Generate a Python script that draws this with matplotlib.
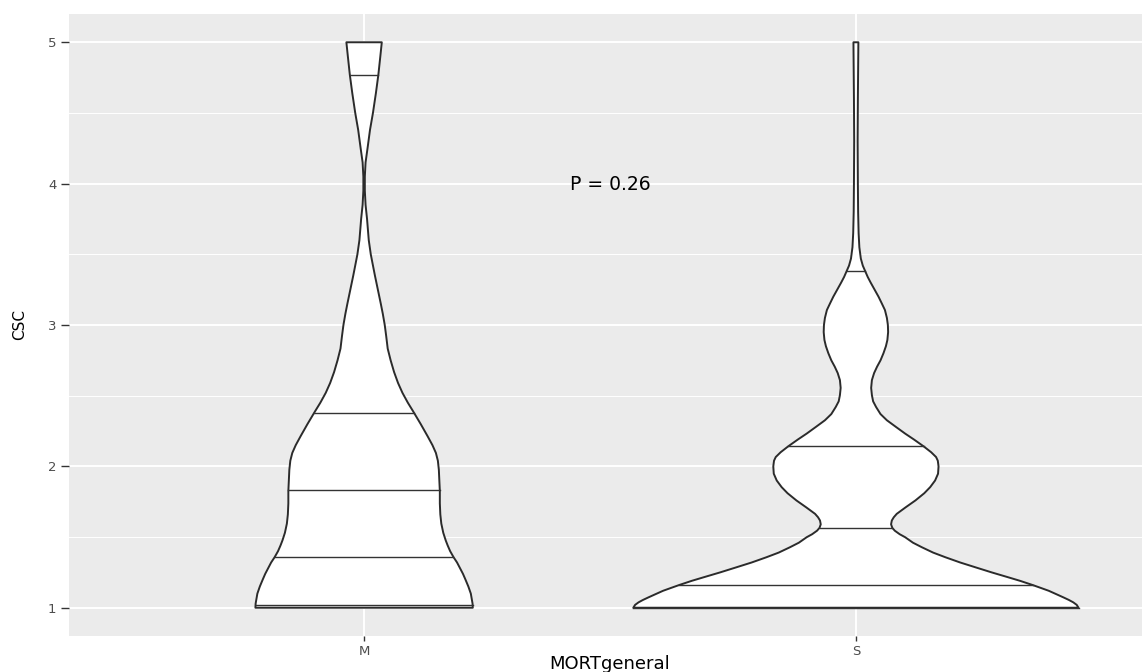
import numpy as np
import matplotlib.pyplot as plt

# group labels on the x axis
groups = ["M", "S"]

# violin outline: half-width (in category units) at each CSC value
m_y = [1.0, 1.03, 1.06, 1.1, 1.15, 1.2, 1.24, 1.28, 1.32, 1.357, 1.4, 1.44,
       1.476, 1.53, 1.595, 1.66, 1.738, 1.826, 1.9, 1.976, 2.04, 2.095, 2.15,
       2.214, 2.3, 2.39, 2.45, 2.52, 2.59, 2.667, 2.75, 2.833, 2.92, 3.0,
       3.08, 3.15, 3.25, 3.35, 3.43, 3.5, 3.6, 3.75, 3.85, 3.95, 4.05, 4.15,
       4.25, 4.38, 4.5, 4.64, 4.77, 4.9, 5.0]
m_half = [0.221, 0.2205, 0.219, 0.217, 0.212, 0.206, 0.201, 0.195, 0.189,
          0.182, 0.175, 0.170, 0.166, 0.161, 0.157, 0.155, 0.154, 0.154, 0.153,
          0.152, 0.150, 0.146, 0.139, 0.129, 0.115, 0.0996, 0.089, 0.078,
          0.069, 0.061, 0.054, 0.048, 0.045, 0.042, 0.038, 0.034, 0.028, 0.022,
          0.0175, 0.0136, 0.0095, 0.006, 0.003, 0.0015, 0.0015, 0.003, 0.007,
          0.012, 0.018, 0.024, 0.029, 0.033, 0.036]

s_y = [1.0, 1.02, 1.038, 1.055, 1.073, 1.095, 1.12, 1.14, 1.161, 1.19, 1.215,
       1.25, 1.286, 1.32, 1.357, 1.39, 1.428, 1.46, 1.499, 1.52, 1.545, 1.565,
       1.59, 1.617, 1.64, 1.664, 1.71, 1.759, 1.81, 1.853, 1.9, 1.948, 2.0,
       2.04, 2.066, 2.1, 2.142, 2.19, 2.232, 2.28, 2.326, 2.37, 2.42, 2.46,
       2.504, 2.555, 2.61, 2.66, 2.705, 2.75, 2.8, 2.85, 2.894, 2.95, 3.0,
       3.05, 3.106, 3.15, 3.2, 3.25, 3.3, 3.34, 3.38, 3.42, 3.47, 3.55, 3.65,
       3.8, 4.0, 4.3, 4.6, 5.0]
s_half = [0.4526, 0.449, 0.442, 0.433, 0.422, 0.408, 0.392, 0.376, 0.359,
          0.334, 0.310, 0.276, 0.243, 0.212, 0.182, 0.157, 0.134, 0.116, 0.100,
          0.089, 0.079, 0.074, 0.0715, 0.073, 0.077, 0.083, 0.101, 0.121,
          0.139, 0.151, 0.161, 0.167, 0.168, 0.1665, 0.163, 0.153, 0.1375,
          0.118, 0.100, 0.081, 0.063, 0.050, 0.041, 0.035, 0.0325, 0.031,
          0.0325, 0.037, 0.043, 0.050, 0.056, 0.061, 0.064, 0.0655, 0.065,
          0.063, 0.059, 0.053, 0.046, 0.038, 0.030, 0.024, 0.019, 0.014, 0.010,
          0.007, 0.0055, 0.0045, 0.004, 0.0035, 0.004, 0.005]

# quantile lines drawn inside each violin
m_quantiles = [1.02, 1.36, 1.83, 2.38, 4.77]
s_quantiles = [1.0, 1.16, 1.565, 2.142, 3.38]

p_label = "P = 0.26"

profiles = [(m_y, m_half, m_quantiles), (s_y, s_half, s_quantiles)]

fig = plt.figure(figsize=(11.42, 6.72), dpi=100)
ax = fig.add_axes([69 / 1142, 36 / 672, 1082 / 1142, 622 / 672])
ax.set_facecolor("#EBEBEB")
for sp in ax.spines.values():
    sp.set_visible(False)

ax.set_xlim(0.4, 2.6)
ax.set_ylim(0.8, 5.2)
ax.set_xticks([1, 2])
ax.set_xticklabels(groups)
ax.set_yticks([1, 2, 3, 4, 5])
ax.set_yticks([1.5, 2.5, 3.5, 4.5], minor=True)
ax.grid(which="major", color="white", linewidth=1.4)
ax.grid(which="minor", axis="y", color="white", linewidth=0.7)
ax.set_axisbelow(True)
ax.tick_params(axis="y", which="major", length=6, width=1, color="#333333",
               labelsize=9.5, labelcolor="#4D4D4D", pad=3)
ax.tick_params(axis="x", which="major", length=3.5, width=1, color="#333333",
               labelsize=9.5, labelcolor="#4D4D4D", pad=3)
ax.tick_params(which="minor", length=0)

for pos, (yy, hh, qs) in zip([1, 2], profiles):
    yy = np.array(yy)
    hh = np.array(hh)
    xs = np.concatenate([pos - hh, (pos + hh)[::-1]])
    ys = np.concatenate([yy, yy[::-1]])
    ax.fill(xs, ys, facecolor="white", edgecolor="#2B2B2B", linewidth=1.4,
            joinstyle="round", zorder=3)
    for q in qs:
        w = np.interp(q, yy, hh)
        ax.plot([pos - w, pos + w], [q, q], color="#333333", linewidth=1.0,
                zorder=4)

ax.text(1.5, 3.957, p_label, ha="center", va="baseline", fontsize=13.5,
        color="black")

fig.text(20 / 1142, 1 - 325 / 672, "CSC", rotation=90, ha="center",
         va="center", fontsize=11)
fig.text(610 / 1142, 1 - 655 / 672, "MORTgeneral", ha="center", va="top",
         fontsize=13)

fig.savefig("out.png", dpi=100)
